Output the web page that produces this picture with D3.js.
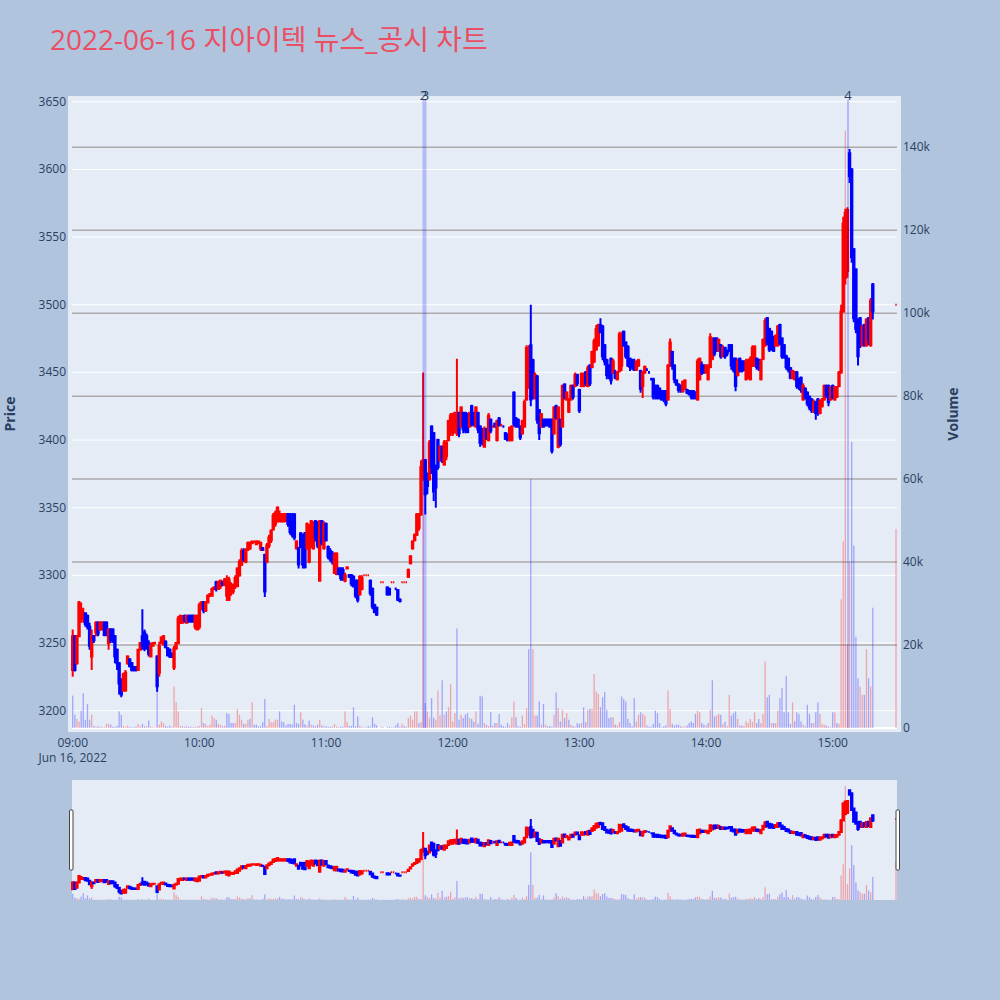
<!DOCTYPE html>
<html>
<head>
<meta charset="utf-8">
<script src="https://cdn.jsdelivr.net/npm/d3@7"></script>
<style>
html,body{margin:0;padding:0;background:#B0C4DE;}
svg{display:block;}
text{font-family:"Open Sans","Noto Sans CJK KR",sans-serif;}
</style>
</head>
<body>
<svg id="chart" width="1000" height="1000"></svg>
<script>
// minutes after 09:00
const minutes = [
0,1,2,3,4,5,6,7,8,9,
10,11,12,13,14,15,16,17,18,19,
20,21,22,23,24,25,26,27,28,29,
30,31,32,33,34,35,36,37,38,39,
40,41,42,43,44,45,46,47,48,49,
50,51,52,53,54,55,56,57,58,59,
60,61,62,63,64,65,66,67,68,69,
70,71,72,73,74,75,76,77,78,79,
80,81,82,83,84,85,86,87,88,89,
90,91,92,93,94,95,96,97,98,99,
100,101,102,103,104,105,106,107,108,109,
110,111,112,113,114,115,116,117,118,119,
120,121,122,123,124,125,126,127,128,129,
130,131,132,133,134,135,136,137,138,139,
140,141,142,143,144,146,147,149,150,151,
152,153,154,155,156,157,158,159,160,161,
162,163,164,165,166,167,168,169,170,171,
172,173,174,175,176,177,178,179,180,181,
182,183,184,185,186,187,188,189,190,191,
192,193,194,195,196,197,198,199,200,201,
202,203,204,205,206,207,208,209,210,211,
212,213,214,215,216,217,218,219,220,221,
222,223,224,225,226,227,228,229,230,231,
232,233,234,235,236,237,238,239,240,241,
242,243,244,245,246,247,248,249,250,251,
252,253,254,255,256,257,258,259,260,261,
262,263,264,265,266,267,268,269,270,271,
272,273,274,275,276,277,278,279,280,281,
282,283,284,285,286,287,288,289,290,291,
292,293,294,295,296,297,298,299,300,301,
302,303,304,305,306,307,308,309,310,311,
312,313,314,315,316,317,318,319,320,321,
322,323,324,325,326,327,328,329,330,331,
332,333,334,335,336,337,338,339,340,341,
342,343,344,345,346,347,348,349,350,351,
352,353,354,355,356,357,358,359,360,361,
362,363,364,365,366,367,368,369,370,371,
372,373,374,375,376,377,378,379,390
];
const opens = [
3230,3255,3235,3255,3268,3268,3272,3270,3262,3240,
3255,3258,3265,3260,3260,3265,3265,3250,3260,3260,
3255,3245,3235,3222,3215,3215,3235,3238,3235,3232,
3232,3230,3245,3255,3258,3255,3250,3240,3248,3250,
3240,3228,3250,3249,3251,3246,3245,3242,3232,3246,
3250,3265,3265,3270,3265,3270,3270,3270,3262,3260,
3262,3275,3280,3274,3280,3285,3285,3290,3295,3290,
3292,3295,3293,3285,3282,3290,3288,3292,3292,3300,
3308,3318,3310,3319,3320,3324,3325,3323,3324,3320,
3320,3315,3310,3322,3326,3334,3338,3340,3340,3340,
3340,3340,3345,3345,3340,3345,3320,3320,3331,3330,
3331,3320,3310,3325,3320,3340,3338,3296,3340,3320,
3338,3321,3318,3316,3302,3301,3305,3305,3304,3296,
3305,3300,3300,3299,3296,3296,3286,3290,3300,3300,
3300,3296,3290,3278,3276,3295,3295,3291,3290,3295,
3295,3290,3289,3282,3295,3295,3295,3299,3309,3320,
3326,3330,3335,3345,3375,3385,3375,3371,3410,3405,
3380,3400,3385,3395,3382,3388,3400,3405,3405,3410,
3405,3420,3410,3420,3420,3418,3410,3425,3420,3410,
3420,3410,3408,3395,3408,3400,3415,3410,3412,3400,
3416,3411,3410,3405,3404,3400,3400,3435,3416,3415,
3410,3405,3410,3430,3440,3470,3459,3432,3447,3422,
3410,3415,3415,3415,3415,3415,3405,3425,3395,3415,
3410,3441,3430,3421,3430,3440,3440,3448,3437,3440,
3440,3450,3440,3455,3454,3458,3467,3470,3485,3484,
3470,3459,3455,3460,3450,3450,3445,3451,3455,3480,
3472,3469,3460,3459,3455,3452,3455,3451,3440,3450,
3452,3450,3445,3445,3440,3440,3438,3436,3436,3436,
3430,3455,3465,3455,3444,3441,3440,3436,3438,3437,
3436,3436,3436,3435,3430,3445,3455,3455,3450,3445,
3454,3460,3475,3475,3466,3470,3462,3468,3466,3470,
3470,3460,3460,3448,3460,3458,3458,3445,3446,3445,
3455,3455,3460,3459,3445,3460,3470,3490,3482,3480,
3476,3470,3470,3485,3475,3470,3462,3460,3453,3446,
3445,3450,3445,3446,3430,3438,3435,3432,3430,3422,
3428,3430,3420,3425,3430,3440,3440,3430,3440,3430,
3432,3440,3450,3495,3520,3525,3612,3600,3541,3526,
3489,3490,3470,3485,3470,3490,3470,3515,3500
];
const highs = [
3260,3256,3256,3281,3280,3276,3272,3271,3265,3260,
3256,3266,3266,3266,3266,3266,3266,3261,3261,3261,
3256,3246,3236,3224,3228,3230,3241,3238,3236,3233,
3233,3245,3250,3275,3260,3257,3252,3250,3250,3251,
3241,3251,3255,3256,3252,3247,3246,3243,3248,3250,
3270,3271,3270,3271,3271,3271,3271,3271,3271,3271,
3280,3281,3281,3281,3286,3287,3291,3292,3296,3296,
3297,3296,3298,3300,3299,3295,3294,3300,3306,3312,
3320,3320,3320,3325,3325,3325,3325,3326,3325,3325,
3321,3316,3324,3330,3334,3346,3348,3351,3348,3346,
3346,3346,3346,3346,3346,3346,3326,3321,3332,3331,
3332,3339,3338,3341,3340,3341,3340,3341,3341,3340,
3339,3322,3320,3318,3317,3317,3306,3306,3306,3302,
3306,3301,3301,3300,3297,3297,3300,3300,3300,3300,
3300,3297,3291,3279,3277,3295,3295,3292,3291,3295,
3295,3291,3290,3283,3295,3295,3295,3305,3315,3326,
3331,3346,3346,3385,3450,3386,3376,3400,3411,3406,
3382,3401,3396,3396,3400,3400,3415,3420,3420,3421,
3460,3421,3425,3421,3421,3420,3421,3426,3421,3425,
3421,3411,3409,3410,3409,3420,3416,3411,3413,3415,
3417,3412,3411,3406,3405,3410,3411,3436,3417,3416,
3411,3415,3430,3470,3470,3500,3460,3450,3448,3423,
3420,3416,3416,3416,3416,3416,3425,3426,3425,3416,
3441,3442,3436,3431,3441,3441,3450,3449,3438,3450,
3450,3451,3455,3456,3466,3475,3485,3486,3490,3485,
3471,3460,3456,3461,3460,3452,3451,3480,3480,3481,
3473,3470,3461,3460,3460,3459,3460,3452,3451,3455,
3453,3451,3446,3446,3441,3441,3439,3437,3437,3437,
3456,3475,3466,3456,3445,3442,3441,3444,3445,3438,
3437,3437,3437,3436,3460,3461,3458,3456,3456,3456,
3479,3476,3476,3476,3475,3471,3470,3469,3467,3471,
3471,3461,3461,3460,3461,3459,3459,3460,3460,3462,
3470,3470,3461,3460,3460,3475,3490,3491,3483,3481,
3477,3478,3485,3486,3476,3471,3463,3461,3454,3452,
3451,3451,3446,3447,3442,3439,3436,3433,3431,3430,
3429,3431,3430,3431,3441,3441,3441,3440,3441,3440,
3440,3451,3500,3565,3571,3572,3615,3601,3542,3527,
3490,3491,3485,3486,3490,3491,3505,3516,3500
];
const lows = [
3225,3229,3234,3255,3265,3265,3262,3260,3245,3230,
3250,3255,3255,3259,3260,3255,3255,3245,3250,3250,
3235,3230,3212,3210,3214,3214,3234,3232,3229,3229,
3229,3230,3245,3245,3244,3245,3240,3240,3248,3249,
3214,3225,3249,3248,3246,3240,3239,3239,3230,3245,
3249,3264,3265,3265,3265,3265,3265,3265,3260,3260,
3260,3275,3272,3273,3280,3284,3285,3289,3288,3290,
3290,3292,3292,3281,3281,3285,3286,3290,3292,3299,
3307,3310,3309,3318,3319,3323,3324,3323,3324,3318,
3318,3284,3309,3320,3324,3333,3336,3339,3339,3339,
3339,3340,3336,3330,3328,3326,3319,3305,3320,3305,
3305,3319,3309,3320,3319,3325,3320,3296,3322,3319,
3325,3312,3310,3308,3301,3300,3300,3296,3296,3295,
3305,3298,3292,3291,3283,3280,3285,3289,3300,3300,
3300,3285,3275,3272,3270,3295,3295,3285,3285,3295,
3295,3289,3281,3280,3295,3295,3295,3298,3308,3319,
3325,3329,3333,3344,3370,3345,3360,3370,3375,3355,
3350,3378,3384,3383,3381,3385,3399,3403,3403,3405,
3403,3402,3409,3405,3405,3405,3409,3410,3410,3409,
3405,3395,3396,3395,3400,3399,3405,3409,3409,3399,
3410,3410,3409,3400,3399,3399,3399,3410,3409,3409,
3400,3404,3409,3429,3438,3425,3430,3430,3412,3400,
3409,3409,3410,3410,3409,3390,3404,3415,3394,3395,
3409,3430,3429,3420,3429,3430,3439,3440,3420,3439,
3439,3440,3439,3440,3453,3457,3466,3469,3479,3459,
3455,3445,3445,3441,3449,3445,3444,3450,3451,3469,
3460,3454,3451,3452,3451,3451,3454,3435,3431,3449,
3451,3449,3444,3430,3430,3430,3430,3429,3428,3425,
3429,3454,3452,3442,3440,3435,3435,3435,3437,3434,
3433,3430,3430,3430,3429,3444,3448,3449,3449,3444,
3453,3459,3462,3465,3465,3460,3461,3460,3462,3465,
3452,3450,3436,3447,3450,3450,3451,3444,3445,3444,
3454,3454,3452,3451,3444,3459,3469,3470,3465,3466,
3465,3469,3469,3470,3460,3460,3452,3450,3445,3445,
3444,3438,3437,3435,3429,3430,3425,3422,3420,3420,
3415,3418,3419,3424,3429,3431,3425,3429,3430,3429,
3431,3439,3449,3494,3515,3520,3590,3531,3487,3479,
3455,3468,3469,3469,3469,3470,3469,3489,3500
];
const closes = [
3255,3230,3255,3280,3275,3272,3264,3262,3248,3255,
3252,3265,3257,3265,3265,3256,3258,3260,3252,3252,
3240,3235,3220,3212,3227,3228,3240,3233,3230,3230,
3230,3245,3250,3248,3246,3247,3242,3248,3250,3250,
3218,3248,3254,3255,3247,3241,3240,3240,3246,3250,
3268,3270,3270,3267,3270,3266,3266,3266,3270,3270,
3278,3280,3274,3280,3285,3286,3290,3291,3290,3295,
3296,3293,3297,3297,3297,3293,3292,3298,3305,3310,
3318,3312,3319,3324,3324,3325,3325,3325,3325,3324,
3319,3288,3322,3328,3333,3344,3346,3350,3345,3345,
3345,3345,3338,3332,3330,3328,3325,3308,3321,3308,
3306,3338,3336,3340,3338,3328,3322,3340,3324,3338,
3326,3314,3312,3310,3315,3316,3301,3298,3297,3300,
3306,3299,3294,3292,3285,3282,3299,3298,3300,3300,
3300,3287,3277,3273,3271,3295,3295,3286,3286,3295,
3295,3290,3282,3281,3295,3295,3295,3304,3314,3325,
3330,3345,3345,3380,3385,3360,3366,3398,3380,3362,
3365,3380,3395,3385,3398,3398,3414,3418,3419,3420,
3420,3405,3424,3408,3407,3406,3420,3412,3412,3424,
3408,3398,3398,3408,3402,3418,3407,3410,3410,3414,
3411,3411,3410,3401,3400,3409,3410,3412,3410,3410,
3402,3414,3428,3468,3465,3430,3432,3448,3415,3405,
3419,3410,3411,3411,3410,3392,3424,3417,3424,3397,
3440,3432,3435,3430,3440,3432,3448,3442,3422,3449,
3448,3442,3453,3442,3465,3473,3482,3485,3480,3462,
3458,3448,3447,3444,3458,3446,3450,3478,3477,3470,
3462,3455,3454,3454,3452,3458,3459,3438,3450,3454,
3452,3450,3445,3432,3432,3431,3431,3430,3430,3427,
3455,3472,3455,3445,3441,3437,3437,3443,3444,3435,
3434,3432,3431,3431,3458,3460,3450,3450,3455,3454,
3476,3474,3464,3466,3474,3462,3468,3462,3464,3466,
3455,3452,3440,3458,3452,3451,3452,3458,3459,3460,
3468,3469,3454,3453,3458,3474,3488,3472,3467,3468,
3466,3477,3484,3472,3462,3462,3454,3452,3446,3451,
3450,3440,3439,3437,3440,3432,3427,3424,3422,3428,
3420,3420,3429,3430,3440,3433,3428,3439,3432,3439,
3439,3450,3495,3560,3568,3570,3595,3535,3490,3482,
3462,3470,3484,3471,3489,3475,3503,3495,3500
];
const volumes = [
7800,3200,2200,1600,4200,8400,2000,5800,2000,3200,
500,300,400,300,200,200,1000,1000,800,300,
300,500,4000,3200,500,300,600,300,200,200,
300,1000,400,1000,400,400,1800,300,200,100,
9200,800,1600,1200,500,300,600,200,10000,6200,
4000,500,400,300,500,300,300,200,300,300,
500,4800,1200,1000,500,800,3000,2400,2000,1000,
800,400,500,3600,3400,1200,1200,1200,4600,3200,
2000,1000,1000,2000,2200,6200,800,800,400,400,
1400,7000,500,2200,1400,1400,2000,2000,4000,1600,
1400,600,1000,1000,800,5600,1200,1000,3800,2000,
900,600,1800,800,600,400,800,2000,600,500,
400,300,300,300,1000,400,200,300,300,4000,
1500,500,500,5000,400,2800,500,300,200,200,
500,300,2600,1000,600,300,200,200,300,200,
200,600,1200,300,1000,500,300,2400,3000,2000,
4000,4000,1200,1400,85000,6000,4000,2500,7200,2500,
2000,9000,3000,11500,3200,4000,5000,10600,1600,3600,
24000,2000,3200,2400,3200,3600,2400,2200,1500,4000,
1000,7800,7600,1200,800,500,3800,600,1200,1200,
3400,800,500,300,1200,600,2600,6400,2600,400,
300,3000,1000,4800,19000,60000,19000,3000,3000,6400,
800,5800,800,400,500,300,3200,8600,4800,1600,
4400,2400,3600,2000,800,500,300,1200,1000,1200,
5000,1400,4400,4600,4600,13000,8800,8200,5000,7400,
8700,4400,2400,2600,2600,800,600,1400,7600,7000,
6400,2200,1200,400,7200,1600,3200,3800,3400,3000,
600,300,300,1000,4200,3600,1200,200,400,600,
9000,4600,1000,600,800,800,400,300,400,600,
1200,1600,1200,3400,4200,3800,1200,800,600,1200,
4400,11500,2800,3000,3400,3200,1000,1500,500,8000,
3000,3600,4000,2200,600,600,500,1600,1200,2200,
1500,3800,1200,2200,1200,3400,16000,7400,8000,1200,
1200,1200,4200,7200,9600,3800,12500,3800,1000,6200,
1600,3800,3400,1600,800,400,5600,3400,1200,1200,
3800,6200,3400,1000,800,600,300,300,3800,3800,
1200,1000,31000,45000,144000,20000,40000,69000,44000,22000,
12000,10000,8000,8000,19000,12000,10000,29000,48000
];
const priceTicks = [3200,3250,3300,3350,3400,3450,3500,3550,3600,3650];
const volumeTicks = [0,20000,40000,60000,80000,100000,120000,140000];
const timeTicks = ["09:00","10:00","11:00","12:00","13:00","14:00","15:00"];
const newsTimes = ["11:46:10","11:47:06","15:07:16"];
const newsLabels = ["2","3","4"];

const day = "2022-06-16";
const parseT = d3.timeParse("%Y-%m-%d %H:%M:%S");
const t0 = parseT(day + " 09:00:00");
const fromMin = m => new Date(t0.getTime() + m * 60000);

const candles = minutes.map((m, i) => ({t: fromMin(m), o: opens[i], h: highs[i], l: lows[i], c: closes[i], v: volumes[i]}));
candles.forEach((d, i) => {
  const prev = i > 0 ? candles[i - 1].c : null;
  d.up = d.c > d.o ? true : d.c < d.o ? false : (prev !== null ? d.c >= prev : true);
  d.vup = prev !== null ? d.c > prev : false;
});

const UP = "#FF0000", DOWN = "#0000FF";
const svg = d3.select("#chart");
svg.append("rect").attr("width", 1000).attr("height", 1000).attr("fill", "#B0C4DE");

// title
svg.append("text").attr("x", 50).attr("y", 50).attr("font-size", 28).attr("fill", "#EB4F63")
  .text("2022-06-16 지아이텍 뉴스_공시 차트");

const x = d3.scaleTime().domain([parseT(day + " 08:59:40"), parseT(day + " 15:30:28")]).range([72, 897]);
const yP = d3.scaleLinear().domain([3187.2, 3651.3]).range([728, 100]);
const yV = d3.scaleLinear().domain([0, 151400]).range([728, 100]);

// plot background
svg.append("rect").attr("x", 68).attr("y", 96).attr("width", 833).attr("height", 636).attr("fill", "#E5ECF6");

// price grid
svg.append("g").selectAll("line").data(priceTicks).join("line")
  .attr("x1", 72).attr("x2", 897).attr("y1", d => yP(d)).attr("y2", d => yP(d))
  .attr("stroke", "#FFFFFF").attr("stroke-width", 1);
// volume grid
svg.append("g").selectAll("line").data(volumeTicks).join("line")
  .attr("x1", 72).attr("x2", 897).attr("y1", d => yV(d)).attr("y2", d => yV(d))
  .attr("stroke", d => d === 0 ? "#FFFFFF" : "#ABABAB").attr("stroke-width", d => d === 0 ? 2 : 1.5);

function drawSeries(g, ys, yv, bw, vw) {
  g.append("g").selectAll("rect").data(candles).join("rect")
    .attr("x", d => x(d.t) - vw / 2).attr("width", vw)
    .attr("y", d => yv(d.v)).attr("height", d => yv(0) - yv(d.v))
    .attr("fill", d => d.vup ? UP : DOWN).attr("fill-opacity", 0.3);
  g.append("g").selectAll("path").data(candles).join("path")
    .attr("d", d => {
      const xc = x(d.t), x0 = xc - bw / 2, x1 = xc + bw / 2;
      const yo = ys(d.o), yc = ys(d.c), yt = Math.min(yo, yc), yb = Math.max(yo, yc);
      return `M${x0},${yt}H${x1}V${yb}H${x0}Z M${xc},${yt}V${ys(d.h)} M${xc},${yb}V${ys(d.l)}`;
    })
    .attr("fill", d => d.up ? UP : DOWN).attr("stroke", d => d.up ? UP : DOWN)
    .attr("stroke-width", 2);
}
drawSeries(svg.append("g"), yP, yV, 1.4, 1.3);

// news lines and labels
const newsX = newsTimes.map(s => x(parseT(day + " " + s)));
svg.append("g").selectAll("line").data(newsX).join("line")
  .attr("x1", d => d).attr("x2", d => d).attr("y1", 100).attr("y2", 728)
  .attr("stroke", "#0000FF").attr("stroke-opacity", 0.22).attr("stroke-width", 2);
svg.append("g").selectAll("text").data(newsLabels).join("text")
  .attr("x", (d, i) => newsX[i]).attr("y", 100).attr("text-anchor", "middle")
  .attr("font-size", 13).attr("fill", "#2a3f5f").text(d => d);

// axes
const fmtV = d3.format("~s");
svg.append("g").selectAll("text").data(priceTicks).join("text")
  .attr("x", 66).attr("y", d => yP(d) + 4).attr("text-anchor", "end")
  .attr("font-size", 12).attr("fill", "#2a3f5f").text(d => d);
svg.append("g").selectAll("text").data(volumeTicks).join("text")
  .attr("x", 903).attr("y", d => yV(d) + 4).attr("text-anchor", "start")
  .attr("font-size", 12).attr("fill", "#2a3f5f").text(d => fmtV(d));
svg.append("g").selectAll("text").data(timeTicks).join("text")
  .attr("x", d => x(parseT(day + " " + d + ":00"))).attr("y", 747).attr("text-anchor", "middle")
  .attr("font-size", 12).attr("fill", "#2a3f5f").text(d => d);
svg.append("text").attr("x", x(parseT(day + " 09:00:00"))).attr("y", 762).attr("text-anchor", "middle")
  .attr("font-size", 12).attr("fill", "#2a3f5f").text("Jun 16, 2022");
svg.append("text").attr("transform", "translate(15,414) rotate(-90)").attr("text-anchor", "middle")
  .attr("font-size", 14).attr("font-weight", "bold").attr("fill", "#2a3f5f").text("Price");
svg.append("text").attr("transform", "translate(958,414) rotate(-90)").attr("text-anchor", "middle")
  .attr("font-size", 14).attr("font-weight", "bold").attr("fill", "#2a3f5f").text("Volume");

// range slider
const yPs = d3.scaleLinear().domain([3187.2, 3651.3]).range([900, 780]);
const yVs = d3.scaleLinear().domain([0, 151400]).range([900, 780]);
svg.append("rect").attr("x", 72).attr("y", 780).attr("width", 825).attr("height", 120).attr("fill", "#E5ECF6");
drawSeries(svg.append("g"), yPs, yVs, 1.4, 1.3);
[[69.5], [896]].forEach(([hx]) => {
  svg.append("rect").attr("x", hx).attr("y", 810).attr("width", 3.5).attr("height", 60)
    .attr("fill", "#FFFFFF").attr("stroke", "#444").attr("stroke-width", 1).attr("rx", 1);
});
</script>
</body>
</html>
